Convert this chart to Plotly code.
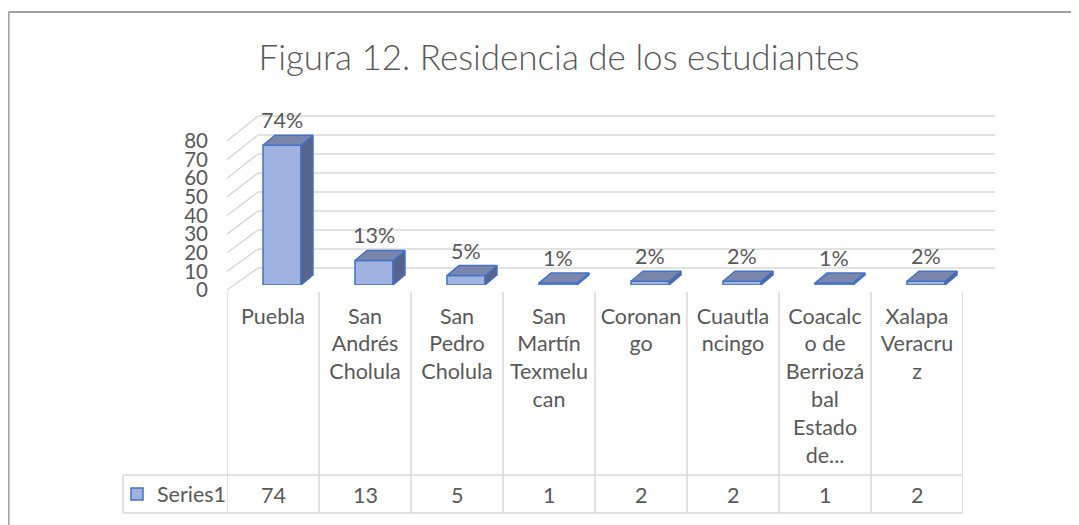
import plotly.graph_objects as go

# Datos
categorias = ["Puebla", "San Andrés Cholula", "San Pedro Cholula", "San Martín Texmelucan",
              "Coronango", "Cuautlancingo", "Coacalco de Berriozábal Estado de...", "Xalapa Veracruz"]
etiquetas = ["Puebla", "San<br>Andrés<br>Cholula", "San<br>Pedro<br>Cholula", "San<br>Martín<br>Texmelu<br>can",
             "Coronan<br>go", "Cuautla<br>ncingo", "Coacalc<br>o de<br>Berriozá<br>bal<br>Estado<br>de...",
             "Xalapa<br>Veracru<br>z"]
valores = [74, 13, 5, 1, 2, 2, 1, 2]
ticks_y = [0, 10, 20, 30, 40, 50, 60, 70, 80]
serie = "Series1"

# la pagina tiene 8px de margen, la figura se ajusta para caber en la ventana
OFF = 8
W, H = 1079 - OFF, 525 - OFF
FONT = "Lato"
GRIS = "#595959"
AZUL = "#4472c4"
FS = 21.5

def px(x):
    return (x - OFF) / W

def py(y):
    return 1 - (y - OFF) / H

pos = list(range(len(categorias)))
total = sum(valores)
ancho = 0.413
ddx = 12 / 92            # profundidad de la barra (en unidades de categoria)
ddy = 10 / (151 / 80)    # profundidad de la barra (en unidades del eje y)

fig = go.Figure()

# cara frontal
fig.add_trace(go.Bar(x=pos, y=valores, width=ancho, name=serie,
                     marker=dict(color="#9fb2e0", line=dict(color=AZUL, width=1.5)),
                     xaxis="x", yaxis="y", showlegend=True, hoverinfo="skip"))

# caras laterales y superiores
sx, sy, tx, ty = [], [], [], []
for i, v in zip(pos, valores):
    xl, xr = i - ancho / 2, i + ancho / 2
    sx += [xr, xr + ddx, xr + ddx, xr, xr, None]
    sy += [0, ddy, v + ddy, v, 0, None]
    tx += [xl, xr, xr + ddx, xl + ddx, xl, None]
    ty += [v, v, v + ddy, v + ddy, v, None]

fig.add_trace(go.Scatter(x=sx, y=sy, fill="toself", fillcolor="#56648c", mode="lines",
                         line=dict(color=AZUL, width=1.5), xaxis="x", yaxis="y",
                         showlegend=False, hoverinfo="skip", cliponaxis=False))
fig.add_trace(go.Scatter(x=tx, y=ty, fill="toself", fillcolor="#7a86ab", mode="lines",
                         line=dict(color=AZUL, width=1.5), xaxis="x", yaxis="y",
                         showlegend=False, hoverinfo="skip", cliponaxis=False))

# eje frontal (etiquetas y tabla)
fig.add_trace(go.Scatter(x=pos, y=valores, mode="markers", marker=dict(opacity=0),
                         xaxis="x2", yaxis="y2", showlegend=False, hoverinfo="skip"))

# etiquetas de datos
for i, v in zip(pos, valores):
    fig.add_annotation(x=i, y=v + ddy, xref="x", yref="y", text=f"{round(v / total * 100)}%",
                       showarrow=False, yanchor="bottom", yshift=0,
                       font=dict(family=FONT, size=FS, color=GRIS))

shapes = []
# pared del fondo y pared lateral
for t in ticks_y:
    yb = 268 - t * 152 / 80
    yf = 290 - t * 149 / 80
    shapes.append(dict(type="line", xref="paper", yref="paper", x0=px(258), x1=px(995),
                       y0=py(yb), y1=py(yb), line=dict(color="#d9d9d9", width=1.5), layer="below"))
    shapes.append(dict(type="line", xref="paper", yref="paper", x0=px(227), x1=px(258),
                       y0=py(yf), y1=py(yb), line=dict(color="#d9d9d9", width=1.5), layer="below"))

# tabla de datos
lc = dict(color="#d9d9d9", width=1.5)
for k in range(len(pos) + 1):
    shapes.append(dict(type="line", xref="x2", yref="paper", x0=k - 0.5, x1=k - 0.5,
                       y0=py(292), y1=py(513), line=lc))
for yy in (475, 513):
    shapes.append(dict(type="line", xref="paper", yref="paper", x0=px(123), x1=px(963),
                       y0=py(yy), y1=py(yy), line=lc))
shapes.append(dict(type="line", xref="paper", yref="paper", x0=px(123), x1=px(123),
                   y0=py(475), y1=py(513), line=lc))
# borde del grafico
for x0, y0, x1, y1 in [(8.5, 12, 1079, 12), (8.5, 12, 8.5, 525)]:
    shapes.append(dict(type="line", xref="paper", yref="paper", x0=px(x0), x1=px(x1),
                       y0=py(y0), y1=py(y1), line=dict(color="#a0a0a0", width=2)))

for i, v in zip(pos, valores):
    fig.add_annotation(x=i, y=py(495), xref="x2", yref="paper", text=str(v), showarrow=False,
                       yanchor="middle", font=dict(family=FONT, size=FS, color=GRIS))

fig.update_layout(
    width=W, height=H, autosize=False,
    margin=dict(l=0, r=0, t=0, b=0, autoexpand=False),
    paper_bgcolor="white", plot_bgcolor="rgba(0,0,0,0)",
    font=dict(family=FONT, size=FS, color=GRIS),
    title=dict(text="Figura 12. Residencia de los estudiantes", x=px(559), xanchor="center",
               y=py(58), yanchor="middle",
               font=dict(family=FONT, size=35, color=GRIS, weight=300)),
    shapes=shapes,
    xaxis=dict(domain=[px(236), px(972)], range=[-0.5, 7.5], visible=False, anchor="y"),
    yaxis=dict(domain=[py(285), py(134)], range=[0, 80], visible=False, anchor="x"),
    xaxis2=dict(domain=[px(227), px(963)], range=[-0.5, 7.5], anchor="y2",
                tickvals=pos, ticktext=etiquetas, showgrid=False, zeroline=False,
                showline=False, ticks="", ticklabelstandoff=11,
                tickfont=dict(family=FONT, size=FS, color=GRIS)),
    yaxis2=dict(domain=[py(290), py(141)], range=[0, 80], anchor="x2", tickvals=ticks_y,
                showgrid=False, zeroline=False, showline=False, ticks="", ticklabelstandoff=18,
                tickfont=dict(family=FONT, size=20.5, color=GRIS)),
    legend=dict(x=px(117), y=py(494), xanchor="left", yanchor="middle", bgcolor="rgba(0,0,0,0)",
                font=dict(family=FONT, size=FS, color=GRIS), itemwidth=30),
    showlegend=True,
)

fig.write_html("out.html")
